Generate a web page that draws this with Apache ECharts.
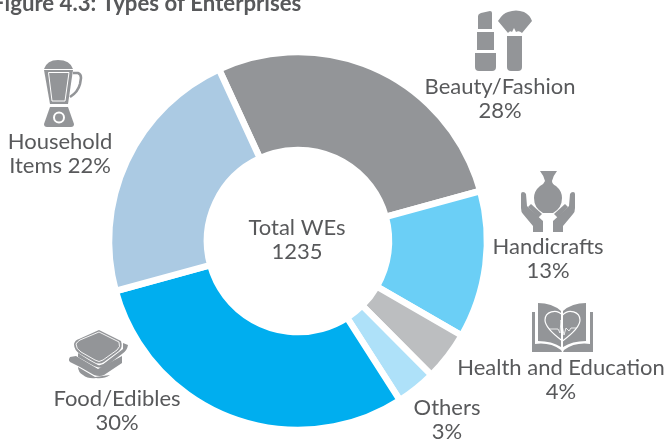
<!DOCTYPE html>
<html><head><meta charset="utf-8">
<script src="https://cdn.jsdelivr.net/npm/echarts@6/dist/echarts.min.js"></script>
<style>html,body{margin:0;padding:0;background:#fff}#c{width:666px;height:443px}</style>
</head><body><div id="c"></div>
<script>
const categories = ['Beauty/Fashion','Handicrafts','Health and Education','Others','Food/Edibles','Household Items'];
const values = [27.6,12.6,4.2,3.4,29.8,22.4];
const labelTexts = ['Beauty/Fashion\n28%','Handicrafts\n13%','Health and Education\n4%','Others\n3%','Food/Edibles\n30%','Household\nItems 22%'];
const centerText = 'Total WEs\n1235';
const titleText = 'Figure 4.3: Types of Enterprises';

const sliceColors = ['#939598','#6bcff6','#bcbec0','#aee1f9','#00aeef','#abcae3'];
const labelAnchors = [[500,99],[548,259],[561,380],[447,420],[117,411],[60,154]];
const TEXT = '#58595b', GREY = '#939598', FONT = 'Lato';

const grey = d => ({type:'path', shape:{pathData:d}, style:{fill:GREY}});
const line = (d,w) => ({type:'path', shape:{pathData:d}, style:{fill:'none',stroke:'#fff',lineWidth:w}});
const icons = [
  // lipstick + brush
  grey('M478 16 Q478 14 481 13 L490 11 Q492 11 492 13 L492 29 L478 29 Z'),
  grey('M477 32 H494 V50 H477 Z'),
  grey('M475 53 H496 V67 Q496 71 492 71 H479 Q475 71 475 67 Z'),
  grey('M498 21 Q503 13 508 12 Q516 9 524 12 Q530 15 532 21 L522 33 Q519 30 516 32 L514 28 L512 32 Q510 30 508 33 Z'),
  grey('M507 36 H522 V67 Q522 71 518 71 H511 Q507 71 507 67 Z'),
  // vase and hands
  grey('M540 171 H557 Q553 176 552 181 Q552 184 556 186 Q562 191 562 198 Q562 208 553 213 H543 Q534 208 534 198 Q534 191 540 186 Q544 184 545 181 Q544 176 540 171 Z'),
  grey('M521 194 Q521 192 523 192 Q525 192 526 194 L527 206 Q535 214 543 221 V232 H533 V226 L523 214 Q521 212 521 208 Z'),
  grey('M528 207 L531 204 L542 214 L538 218 Z'),
  grey('M575 194 Q575 192 573 192 Q571 192 570 194 L569 206 Q561 214 553 221 V232 H563 V226 L573 214 Q575 212 575 208 Z'),
  grey('M568 207 L565 204 L554 214 L558 218 Z'),
  // book with heart
  grey('M532 312 H535 V344 Q550 342 561 350 H532 Z'),
  grey('M593 312 H590 V344 Q575 342 564 350 H593 Z'),
  grey('M532 350 H561 L562 352 H532 Z'),
  grey('M593 350 H564 L563 352 H593 Z'),
  grey('M538 303 Q552 303 561 311 V347 Q552 341 538 341 Z'),
  grey('M586 303 Q572 303 563 311 V347 Q572 341 586 341 Z'),
  line('M562.500 341 Q545 328 545 320 C545 312 556 308 562.500 315 C569 308 580 312 580 320 Q580 328 562.500 341 Z',1.2),
  line('M549 329 H558 L560 333 L561 320 L564 335 L566 328 L569 331 L571 328 H576',0.8),
  // sandwich
  grey('M99 330 L121 341 Q123 347 119 351 L104 362 Q99 365 94 362 L80 354 Q74 350 74 344 Q75 340 79 339 Z'),
  line('M99 332 L119 342 Q121 347 117 350 L103 360 Q99 363 95 360 L81 352 Q76 349 76 344 Q77 342 80 340 Z',0.9),
  grey('M123 343 L128 345 Q127 351 122 354 L105 367 Q100 369 94 366 L78 357 L78 353 Q88 360 98 365 Q102 366 106 362 L123 349 Z'),
  grey('M70 357 L76 356 L98 369 L122 356 L122 363 L104 375 Q100 377 94 375 L80 367 L72 363 Q67 361 70 357 Z'),
  grey('M78 367 L95 377 L110 375 Q104 379 96 378 Q88 379 83 375 Q78 372 78 367 Z'),
  // blender
  grey('M44 69 Q47 60 58 60 Q70 60 73 69 Z'),
  grey('M44 70 H73 L68 104 H50 Z'),
  line('M48.500 72.500 H69 L65 101 H52 Z',1),
  {type:'path', shape:{pathData:'M73 73 L78 73 Q81 74 81 78 L80 84 Q78 92 70 97'}, style:{fill:'none',stroke:GREY,lineWidth:2.6}},
  grey('M50 107 H68 L74 124 Q74 127 71 127 H47 Q44 127 44 124 Z'),
  {type:'circle', shape:{cx:59,cy:117.500,r:5}, style:{fill:GREY,stroke:'#fff',lineWidth:2}}
];

const textEl = (content,x,y) => ({type:'text',x,y,style:{text:content,fontFamily:FONT,fontSize:22,lineHeight:24,fill:TEXT,align:'center',verticalAlign:'middle'}});

const chart = echarts.init(document.getElementById('c'), null, {renderer:'canvas'});
chart.setOption({
  animation:false,
  title:{text:titleText,left:-13,top:-12,textStyle:{fontFamily:FONT,fontSize:22.2,fontWeight:'bold',color:TEXT}},
  series:[{
    type:'pie',
    center:[298,241],
    radius:[91,189],
    startAngle:114.7,
    clockwise:true,
    itemStyle:{borderColor:'#fff',borderWidth:6.5},
    label:{show:false},
    labelLine:{show:false},
    emphasis:{disabled:true},
    data:categories.map((n,i)=>({name:n,value:values[i],itemStyle:{color:sliceColors[i]}}))
  },{
    type:'custom',
    coordinateSystem:'none',
    silent:true,
    data:[0],
    renderItem:()=>({type:'group',children:icons})
  }],
  graphic:[
    ...labelTexts.map((t,i)=>textEl(t,labelAnchors[i][0],labelAnchors[i][1])),
    textEl(centerText,297,240)
  ]
});
</script></body></html>
